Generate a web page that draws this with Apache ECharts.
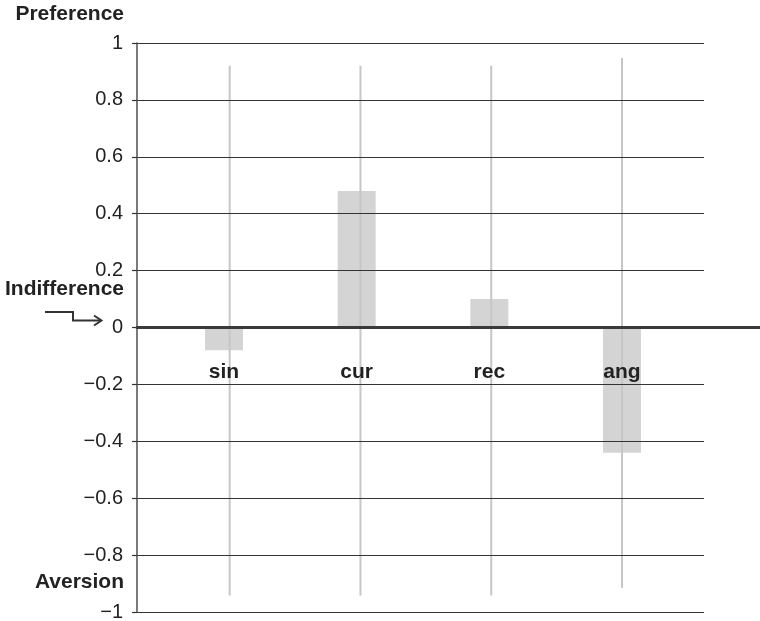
<!DOCTYPE html>
<html>
<head>
<meta charset="utf-8">
<style>
  html, body { margin: 0; padding: 0; background: #fff; }
  #chart { width: 760px; height: 621px; }
</style>
<script src="https://cdn.jsdelivr.net/npm/echarts@6/dist/echarts.min.js"></script>
</head>
<body>
<div id="chart"></div>
<script>
// Mean attitude toward each stimulus shape, from aversion (−1) to preference (+1)
const categories = ['sin', 'cur', 'rec', 'ang'];
const values = [-0.08, 0.48, 0.1, -0.44];
// Extent of the grey range line drawn through each category
const rangeTop = [0.92, 0.92, 0.92, 0.947];
const rangeBottom = [-0.942, -0.942, -0.942, -0.915];
// Scale labels along the vertical axis
const scaleMin = -1;
const scaleMax = 1;
const scaleStep = 0.2;
const sideLabels = [
  { text: 'Preference', value: 1.1 },
  { text: 'Indifference', value: 0.133 },
  { text: 'Aversion', value: -0.894 }
];

const FONT = '"Liberation Sans", Arial, Helvetica, sans-serif';
const chart = echarts.init(document.getElementById('chart'), null, { renderer: 'canvas' });

const fmt = v => {
  const r = +v.toFixed(1);
  return r < 0 ? '\u2212' + Math.abs(r) : String(r);
};

const hiddenY = idx => ({
  type: 'value', gridIndex: idx, min: scaleMin, max: scaleMax, interval: scaleStep, show: false
});

const option = {
  animation: false,
  backgroundColor: '#ffffff',
  grid: [
    { left: 137, right: 56, top: 43, bottom: 9, outerBoundsMode: 'none' },
    { left: 137, right: 0, top: 43, bottom: 9, outerBoundsMode: 'none' },
    { left: 157.7, right: 71.7, top: 43, bottom: 9, outerBoundsMode: 'none' },
    { left: 164.3, right: 72.6, top: 43, bottom: 9, outerBoundsMode: 'none' }
  ],
  xAxis: [
    { type: 'value', gridIndex: 0, show: false, min: 0, max: 1 },
    {
      type: 'value', gridIndex: 1, min: 0, max: 1, z: 6,
      axisLine: { show: true, onZero: true, lineStyle: { color: '#3a3a3a', width: 3 } },
      axisTick: { show: false }, axisLabel: { show: false }, splitLine: { show: false }
    },
    { type: 'category', gridIndex: 2, data: categories, show: false },
    { type: 'category', gridIndex: 3, data: categories, show: false }
  ],
  yAxis: [
    {
      type: 'value', gridIndex: 0, min: scaleMin, max: scaleMax, interval: scaleStep, z: 5,
      axisLine: { show: true, lineStyle: { color: '#5a5a5a', width: 1.6 } },
      axisTick: { show: true, length: 5, lineStyle: { color: '#333', width: 1.2 } },
      axisLabel: {
        margin: 14, fontFamily: FONT, fontSize: 20, color: '#222', formatter: fmt
      },
      splitLine: { show: true, lineStyle: { color: '#333', width: 1.2 } }
    },
    hiddenY(1),
    hiddenY(2),
    hiddenY(3)
  ],
  series: [
    {
      type: 'bar', xAxisIndex: 2, yAxisIndex: 2, data: values, barWidth: 38,
      itemStyle: { color: '#d4d4d4' }, z: 2
    },
    {
      // grey range line through each category
      type: 'custom', xAxisIndex: 3, yAxisIndex: 3, z: 3,
      data: categories.map((c, i) => [i, rangeTop[i], rangeBottom[i]]),
      encode: { x: 0, y: [1, 2] },
      renderItem: (params, api) => {
        const p1 = api.coord([api.value(0), api.value(1)]);
        const p2 = api.coord([api.value(0), api.value(2)]);
        return {
          type: 'line',
          shape: { x1: p1[0], y1: p1[1], x2: p2[0], y2: p2[1] },
          style: { stroke: '#c6c6c6', lineWidth: 2 }
        };
      }
    },
    {
      // category names just below the indifference line
      type: 'custom', xAxisIndex: 2, yAxisIndex: 2, z: 8, silent: true,
      data: categories.map((c, i) => [i, 0]),
      renderItem: (params, api) => {
        const p = api.coord([api.value(0), 0]);
        return {
          type: 'text', z2: 10,
          style: {
            text: categories[params.dataIndex], x: p[0], y: p[1] + 45,
            align: 'center', verticalAlign: 'middle',
            font: 'bold 21px ' + FONT, fill: '#222'
          }
        };
      }
    }
  ]
};

chart.setOption(option);

// Side annotations and the arrow pointing at the indifference level
const toY = v => chart.convertToPixel({ yAxisIndex: 0 }, v);
const zeroY = toY(0);
const graphics = sideLabels.map(l => ({
  type: 'text', z: 10,
  style: {
    text: l.text, x: 124, y: toY(l.value), align: 'right', verticalAlign: 'middle',
    font: 'bold 21px ' + FONT, fill: '#222'
  }
}));
const yA = zeroY - 15.5, yB = zeroY - 7;
graphics.push({
  type: 'polyline', z: 10,
  shape: { points: [[45, yA], [73, yA], [73, yB], [101, yB]] },
  style: { stroke: '#333', lineWidth: 2, fill: null }
});
graphics.push({
  type: 'polyline', z: 10,
  shape: { points: [[94, yB - 5], [101.5, yB], [94, yB + 5]] },
  style: { stroke: '#333', lineWidth: 2, fill: null }
});
chart.setOption({ graphic: graphics });
</script>
</body>
</html>
